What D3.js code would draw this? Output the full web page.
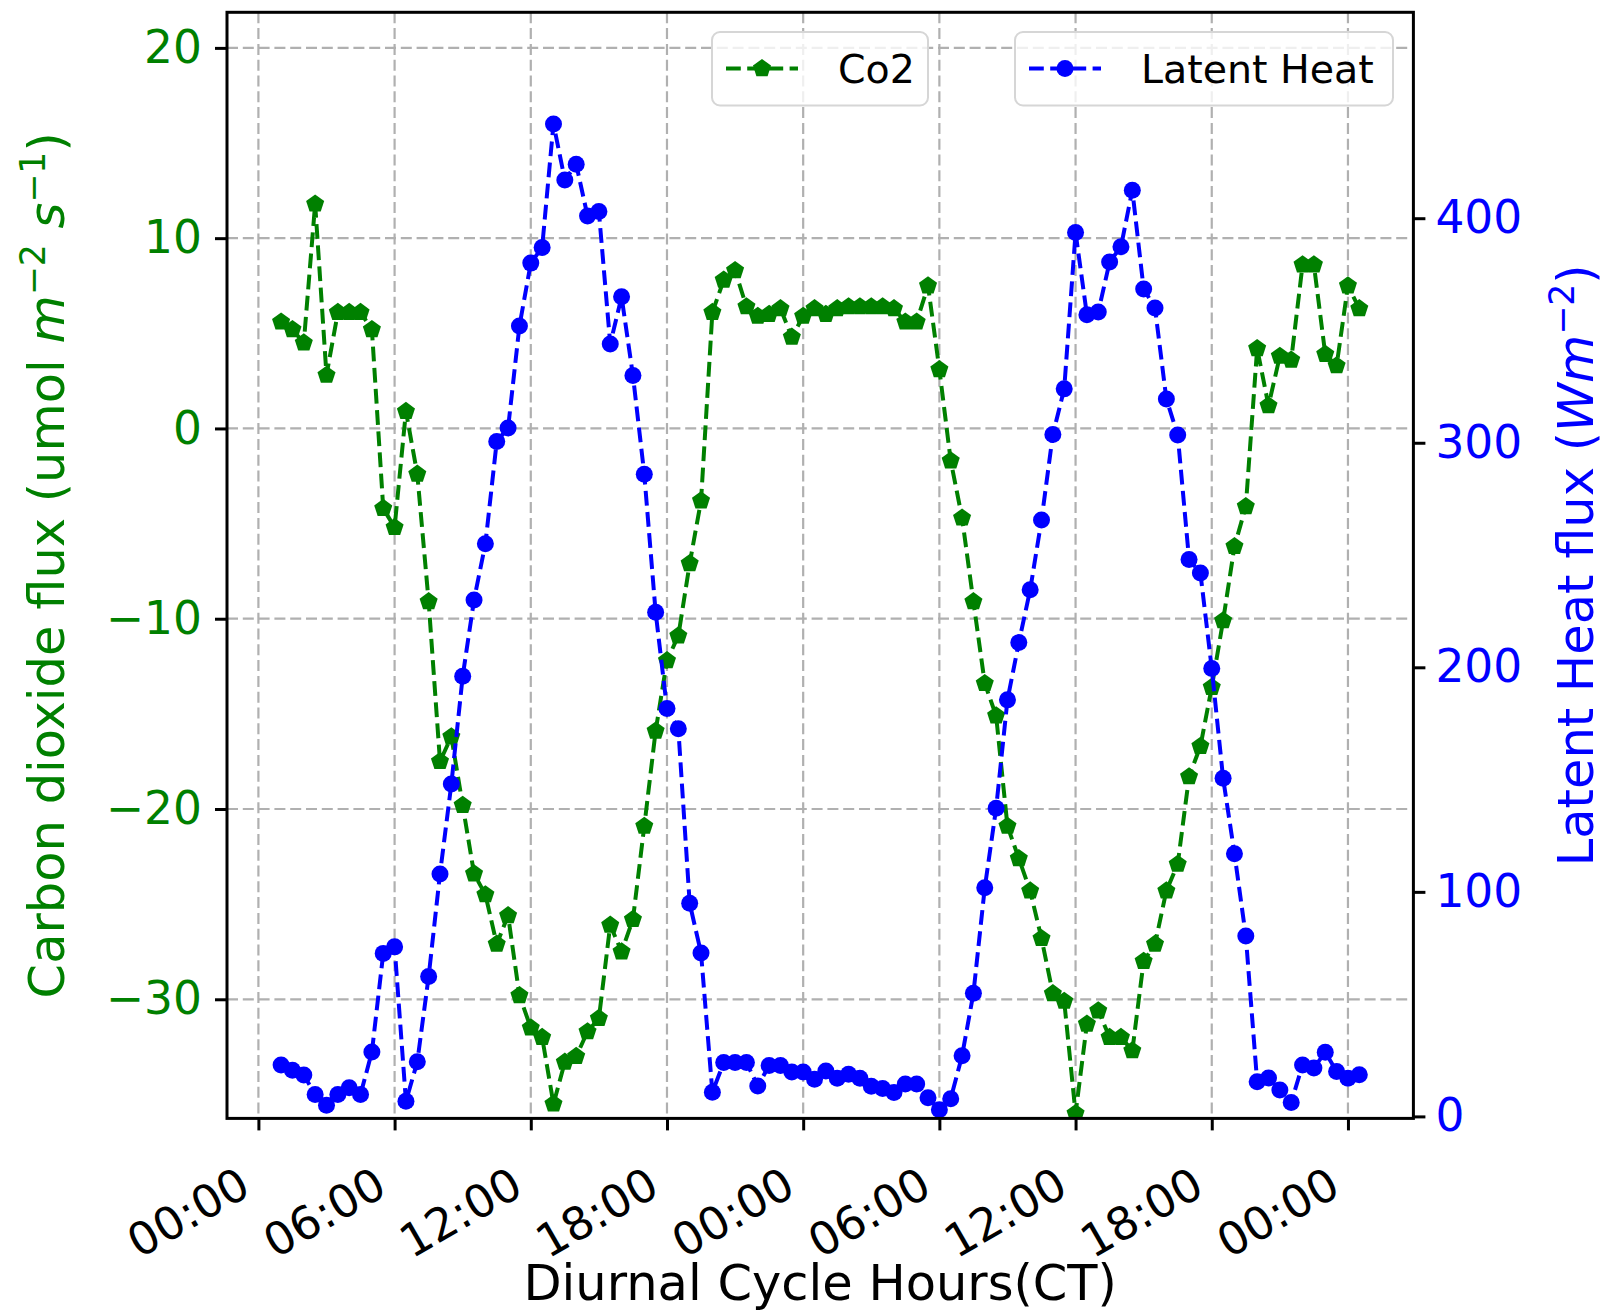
<!DOCTYPE html>
<html>
<head>
<meta charset="utf-8">
<script src="https://cdn.jsdelivr.net/npm/d3@7"></script>
<style>
  body { margin: 0; background: #fff; }
  svg { display: block; font-family: "DejaVu Sans", sans-serif; }
</style>
</head>
<body>
<div id="chart"></div>
<script>
// half-hourly samples, 01:00 day 1 to 00:30 day 3
var co2 = [5.6, 5.2, 4.5, 11.8, 2.8, 6.1, 6.1, 6.1, 5.2, -4.2,
	-5.2, 0.9, -2.4, -9.1, -17.5, -16.2, -19.8, -23.4, -24.5, -27.1,
	-25.6, -29.8, -31.5, -32.0, -35.5, -33.3, -33.0, -31.7, -31.0, -26.1,
	-27.5, -25.8, -20.9, -15.9, -12.2, -10.9, -7.1, -3.8, 6.1, 7.8,
	8.3, 6.4, 5.9, 6.0, 6.3, 4.8, 5.9, 6.3, 6.0, 6.3,
	6.4, 6.4, 6.4, 6.4, 6.3, 5.6, 5.6, 7.5, 3.1, -1.7,
	-4.7, -9.1, -13.4, -15.1, -20.9, -22.6, -24.3, -26.8, -29.7, -30.1,
	-36.0, -31.3, -30.6, -32.0, -32.0, -32.7, -28.0, -27.1, -24.3, -22.9,
	-18.3, -16.7, -13.6, -10.1, -6.2, -4.1, 4.2, 1.2, 3.8, 3.6,
	8.6, 8.6, 3.9, 3.3, 7.5, 6.3]

var latent = [22.9, 20.6, 18.4, 9.8, 5.0, 9.8, 12.8, 9.8, 28.7, 72.6,
	75.5, 6.7, 24.3, 62.3, 108, 148, 196, 230, 255, 300.6,
	306.6, 352, 380, 387, 442, 417, 424, 401, 403, 344,
	365, 330, 286, 224.5, 181.7, 172.6, 94.9, 72.8, 10.8, 24,
	24, 24, 13.5, 22.7, 22.7, 19.8, 19.8, 16.5, 20.2, 17,
	18.8, 17, 13.4, 12.4, 10.6, 14.4, 14.4, 8.3, 3, 7.9,
	27, 54.8, 101.8, 137.2, 185.5, 211, 234.5, 265.6, 303.7, 324,
	393.6, 357, 358.2, 380.5, 387.3, 412.5, 368.5, 360, 319.5, 303.5,
	248, 242, 199.5, 150.6, 117, 80.3, 15.4, 17.1, 11.8, 6.2,
	22.9, 21.6, 28.6, 20, 17, 18.6]

var day0 = new Date(2021, 6, 1, 0, 0)
var firstSample = new Date(2021, 6, 1, 1, 0)
var co2Ticks = [-30, -20, -10, 0, 10, 20]
var latentTicks = [0, 100, 200, 300, 400]

var times = co2.map(function(d, i) { return d3.timeMinute.offset(firstSample, 30 * i) })

var width = 1606, height = 1312
var margin = {top: 12.3, right: 192.6, bottom: 193.6, left: 227}
var plotW = width - margin.left - margin.right
var plotH = height - margin.top - margin.bottom

var green = "#008000", blue = "#0000ff"
var tickFont = 45.5, labelFont = 49.5, legendFont = 39.5

var svg = d3.select("#chart").append("svg")
	.attr("width", width)
	.attr("height", height)

var x = d3.scaleTime()
	.domain([d3.timeMinute.offset(day0, -1.37 * 60), d3.timeMinute.offset(day0, 50.89 * 60)])
	.range([0, plotW])
var yLeft = d3.scaleLinear().domain([-36.26, 21.87]).range([plotH, 0])
var yRight = d3.scaleLinear().domain([-0.89, 491.7]).range([plotH, 0])

var g = svg.append("g").attr("transform", "translate(" + margin.left + "," + margin.top + ")")

g.append("clipPath").attr("id", "plotClip")
	.append("rect").attr("width", plotW).attr("height", plotH)

var xTicks = d3.timeHour.every(6).range(day0, d3.timeMinute.offset(day0, 48 * 60 + 1))

// grid
var grid = g.append("g").attr("class", "grid")
grid.selectAll(".vgrid").data(xTicks).enter().append("line")
	.attr("x1", d => x(d)).attr("x2", d => x(d))
	.attr("y1", 0).attr("y2", plotH)
grid.selectAll(".hgrid").data(co2Ticks).enter().append("line")
	.attr("x1", 0).attr("x2", plotW)
	.attr("y1", d => yLeft(d)).attr("y2", d => yLeft(d))
grid.selectAll("line")
	.attr("stroke", "#b0b0b0")
	.attr("stroke-width", 2.2)
	.attr("stroke-dasharray", "11,4.8")

function pentagon(r) {
	var pts = d3.range(5).map(function(k) {
		var a = -Math.PI / 2 + k * 2 * Math.PI / 5
		return [r * Math.cos(a), r * Math.sin(a)]
	})
	return "M" + pts.join("L") + "Z"
}

var data = times.map(function(t, i) { return {t: t, co2: co2[i], lh: latent[i]} })

// co2 series
var plotArea = g.append("g").attr("clip-path", "url(#plotClip)")
var co2Line = d3.line().x(d => x(d.t)).y(d => yLeft(d.co2))
plotArea.append("path").datum(data)
	.attr("d", co2Line)
	.attr("fill", "none")
	.attr("stroke", green)
	.attr("stroke-width", 4)
	.attr("stroke-dasharray", "14.8,6.4")
plotArea.selectAll(".co2pt").data(data).enter().append("path")
	.attr("class", "co2pt")
	.attr("d", pentagon(9.5))
	.attr("transform", d => "translate(" + x(d.t) + "," + yLeft(d.co2) + ")")
	.attr("fill", green)

// legend helper
function legendBox(x0, w, label, color, marker) {
	var lg = g.append("g").attr("transform", "translate(" + x0 + ",19.7)")
	lg.append("rect")
		.attr("width", w).attr("height", 73.5)
		.attr("rx", 8)
		.attr("fill", "#fff").attr("fill-opacity", 0.8)
		.attr("stroke", "#d6d6d6").attr("stroke-width", 2)
	lg.append("line")
		.attr("x1", 14).attr("x2", 86).attr("y1", 36.5).attr("y2", 36.5)
		.attr("stroke", color).attr("stroke-width", 4)
		.attr("stroke-dasharray", "14.8,6.4")
	if (marker == "p") {
		lg.append("path").attr("d", pentagon(9.5)).attr("fill", color)
			.attr("transform", "translate(50,36.5)")
	} else {
		lg.append("circle").attr("cx", 50).attr("cy", 36.5).attr("r", 8.5).attr("fill", color)
	}
	lg.append("text")
		.attr("x", 126).attr("y", 50.5)
		.attr("font-size", legendFont)
		.attr("fill", "#000")
		.text(label)
}

legendBox(485, 216, "Co2", green, "p")

// latent heat series
var lhLine = d3.line().x(d => x(d.t)).y(d => yRight(d.lh))
plotArea.append("path").datum(data)
	.attr("d", lhLine)
	.attr("fill", "none")
	.attr("stroke", blue)
	.attr("stroke-width", 4)
	.attr("stroke-dasharray", "14.8,6.4")
plotArea.selectAll(".lhpt").data(data).enter().append("circle")
	.attr("cx", d => x(d.t)).attr("cy", d => yRight(d.lh))
	.attr("r", 8.5)
	.attr("fill", blue)

legendBox(788, 378, "Latent Heat", blue, "o")

// axes
var xAxis = g.append("g").attr("transform", "translate(0," + plotH + ")")
	.call(d3.axisBottom(x).tickValues(xTicks).tickSize(12).tickFormat(d3.timeFormat("%H:%M")))
xAxis.selectAll("text")
	.attr("y", null).attr("dy", null)
	.attr("text-anchor", "end")
	.attr("transform", "translate(-6,75) rotate(-30)")
	.attr("fill", "#000")

var leftAxis = g.append("g")
	.call(d3.axisLeft(yLeft).tickValues(co2Ticks).tickSize(12).tickPadding(13))
leftAxis.selectAll("text").attr("fill", green)

var rightAxis = g.append("g").attr("transform", "translate(" + plotW + ",0)")
	.call(d3.axisRight(yRight).tickValues(latentTicks).tickSize(12).tickPadding(10))
rightAxis.selectAll("text").attr("fill", blue)

g.selectAll(".domain").remove()
g.selectAll(".tick line").attr("stroke", "#000").attr("stroke-width", 3)
g.selectAll(".tick text").attr("font-size", tickFont).attr("font-family", "DejaVu Sans")

// frame
g.append("rect")
	.attr("width", plotW).attr("height", plotH)
	.attr("fill", "none").attr("stroke", "#000").attr("stroke-width", 3)

// axis labels
svg.append("text")
	.attr("x", margin.left + plotW / 2).attr("y", 1300)
	.attr("text-anchor", "middle")
	.attr("font-size", labelFont)
	.attr("fill", "#000")
	.text("Diurnal Cycle Hours(CT)")

var leftLabel = svg.append("text")
	.attr("transform", "translate(64," + (margin.top + plotH / 2) + ") rotate(-90)")
	.attr("text-anchor", "middle")
	.attr("font-size", labelFont)
	.attr("fill", green)
leftLabel.append("tspan").text("Carbon dioxide flux (umol ")
leftLabel.append("tspan").attr("font-style", "italic").text("m")
leftLabel.append("tspan").attr("font-size", labelFont * 0.7).attr("dy", -19).text("−2")
leftLabel.append("tspan").attr("dy", 19).text(" ")
leftLabel.append("tspan").attr("font-style", "italic").text("s")
leftLabel.append("tspan").attr("font-size", labelFont * 0.7).attr("dy", -19).text("−1")
leftLabel.append("tspan").attr("dy", 19).text(")")

var rightLabel = svg.append("text")
	.attr("transform", "translate(1592.6," + (margin.top + plotH / 2) + ") rotate(-90)")
	.attr("text-anchor", "middle")
	.attr("font-size", labelFont)
	.attr("fill", blue)
rightLabel.append("tspan").text("Latent Heat flux (")
rightLabel.append("tspan").attr("font-style", "italic").text("Wm")
rightLabel.append("tspan").attr("font-size", labelFont * 0.7).attr("dy", -19).text("−2")
rightLabel.append("tspan").attr("dy", 19).text(")")
</script>
</body>
</html>
